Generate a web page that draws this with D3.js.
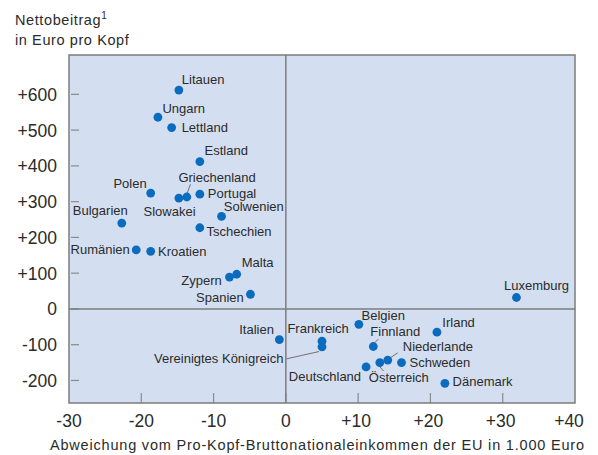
<!DOCTYPE html>
<html>
<head>
<meta charset="utf-8">
<script src="https://cdn.jsdelivr.net/npm/d3@7"></script>
<style>
  body { margin: 0; background: #fff; }
  svg text { font-family: "Liberation Sans", Arial, Helvetica, sans-serif; fill: #2b2b2b; }
</style>
</head>
<body>
<div id="chart"></div>
<script>
// data
var countries = ["Litauen", "Ungarn", "Lettland", "Estland", "Polen", "Griechenland", "Slowakei",
  "Portugal", "Solwenien", "Bulgarien", "Tschechien", "Rumänien", "Kroatien", "Malta", "Zypern",
  "Spanien", "Italien", "Frankreich", "Vereinigtes Königreich", "Belgien", "Finnland", "Irland",
  "Niederlande", "Österreich", "Schweden", "Deutschland", "Dänemark", "Luxemburg"];
var gniDiff = [-14.8, -17.7, -15.8, -11.9, -18.7, -13.7, -14.8,
  -11.9, -8.9, -22.7, -11.9, -20.7, -18.7, -6.8, -7.8,
  -4.9, -0.9, 5.0, 5.0, 10.1, 12.1, 20.9,
  14.1, 13.0, 16.0, 11.1, 22.0, 31.9];
var netContrib = [612, 536, 507, 412, 324, 313, 310,
  321, 259, 240, 227, 165, 161, 97, 89,
  41, -86, -90, -106, -43, -105, -65,
  -143, -150, -150, -162, -208, 32];
var xTicks = [-30, -20, -10, 0, 10, 20, 30, 40];
var yTicks = [-200, -100, 0, 100, 200, 300, 400, 500, 600];

// label placement (pixels relative to the dot)
var labelPos = {
  "Litauen": [3, -6, "start"],
  "Ungarn": [4.5, -4.5, "start"],
  "Lettland": [10, 4, "start"],
  "Estland": [4.7, -6.5, "start"],
  "Polen": [-4, -5, "end"],
  "Griechenland": [-8.4, -14.7, "start"],
  "Slowakei": [16.7, 17.7, "end"],
  "Portugal": [8, 4, "start"],
  "Solwenien": [2.3, -5.3, "start"],
  "Bulgarien": [6, -8, "end"],
  "Tschechien": [6.7, 8.5, "start"],
  "Rumänien": [-6.4, 4.5, "end"],
  "Kroatien": [7.3, 4.5, "start"],
  "Malta": [5, -7.6, "start"],
  "Zypern": [-7.7, 7.7, "end"],
  "Spanien": [-6.7, 8, "end"],
  "Italien": [-5.4, -5.7, "end"],
  "Frankreich": [-34.6, -8.6, "start"],
  "Vereinigtes Königreich": [-38.6, 15.7, "end"],
  "Belgien": [2.7, -4.3, "start"],
  "Finnland": [-3, -10, "start"],
  "Irland": [5.4, -5, "start"],
  "Niederlande": [15, -9, "start"],
  "Österreich": [-11, 19.6, "start"],
  "Schweden": [8, 4, "start"],
  "Deutschland": [-5, 13.7, "end"],
  "Dänemark": [7.7, 2.5, "start"],
  "Luxemburg": [-12.4, -7.7, "start"]
};
var leaders = {
  "Griechenland": [0.3, -3.7, 3.6, -12.7],
  "Vereinigtes Königreich": [-3, 4.7, -35.6, 12],
  "Finnland": [1.7, -4, 5, -7.4],
  "Niederlande": [2.6, -2.3, 10, -7.3],
  "Österreich": [-0.7, 3.4, 3.7, 8.4]
};

var width = 598, height = 455;
var pLeft = 69, pRight = 575, pTop = 55, pBottom = 403;

var x = d3.scaleLinear().domain([-30, 40]).range([pLeft, pRight]);
var y = d3.scaleLinear().domain([-263, 710]).range([pBottom, pTop]);

var svg = d3.select("#chart").append("svg")
    .attr("width", width)
    .attr("height", height);

svg.append("rect")
    .attr("x", pLeft).attr("y", pTop)
    .attr("width", pRight - pLeft).attr("height", pBottom - pTop)
    .attr("fill", "#d3dff0");

// tick marks inside the plot
svg.selectAll(".ytick").data(yTicks).enter().append("line")
    .attr("x1", pLeft + 2).attr("x2", pLeft + 10)
    .attr("y1", function(d) { return y(d); }).attr("y2", function(d) { return y(d); })
    .attr("stroke", "#8a8a8a").attr("stroke-width", 1.2);

svg.selectAll(".xtick").data(xTicks.slice(1, -1)).enter().append("line")
    .attr("x1", function(d) { return x(d); }).attr("x2", function(d) { return x(d); })
    .attr("y1", pBottom).attr("y2", pBottom - 10)
    .attr("stroke", "#8a8a8a").attr("stroke-width", 1.2);

// zero lines
svg.append("line")
    .attr("x1", x(0)).attr("x2", x(0)).attr("y1", pTop).attr("y2", pBottom)
    .attr("stroke", "#7c7c7c").attr("stroke-width", 1.5);
svg.append("line")
    .attr("x1", pLeft).attr("x2", pRight).attr("y1", y(0)).attr("y2", y(0))
    .attr("stroke", "#7c7c7c").attr("stroke-width", 1.5);

svg.append("rect")
    .attr("x", pLeft).attr("y", pTop)
    .attr("width", pRight - pLeft).attr("height", pBottom - pTop)
    .attr("fill", "none")
    .attr("stroke", "#7c7c7c").attr("stroke-width", 1.5);

// tick labels
var fmt = function(d) { return d > 0 ? "+" + d : String(d); };

svg.selectAll(".ylab").data(yTicks).enter().append("text")
    .attr("x", 57)
    .attr("y", function(d) { return y(d) + 6.5; })
    .attr("text-anchor", "end")
    .style("font-size", "17.5px")
    .text(fmt);

svg.selectAll(".xlab").data(xTicks).enter().append("text")
    .attr("x", function(d) { return x(d); })
    .attr("dx", function(d) { return d === 40 ? -6 : (d > 0 ? -2 : 0); })
    .attr("y", 427)
    .attr("text-anchor", "middle")
    .style("font-size", "17.5px")
    .text(fmt);

// titles
var t = svg.append("text").attr("x", 15).attr("y", 25).style("font-size", "14.5px")
    .style("letter-spacing", "0.6px");
t.append("tspan").text("Nettobeitrag");
t.append("tspan").attr("dy", -6).style("font-size", "10px").text("1");
svg.append("text").attr("x", 15).attr("y", 44.5).style("font-size", "14.5px")
    .style("letter-spacing", "0.6px").text("in Euro pro Kopf");

svg.append("text")
    .attr("x", 50).attr("y", 450)
    .style("font-size", "14.5px")
    .style("letter-spacing", "0.8px")
    .text("Abweichung vom Pro-Kopf-Bruttonationaleinkommen der EU in 1.000 Euro");

// leader lines
countries.forEach(function(c, i) {
  var l = leaders[c];
  if (!l) return;
  var px = x(gniDiff[i]), py = y(netContrib[i]);
  svg.append("line")
      .attr("x1", px + l[0]).attr("y1", py + l[1])
      .attr("x2", px + l[2]).attr("y2", py + l[3])
      .attr("stroke", "#6f6f6f").attr("stroke-width", 1);
});

// dots
svg.selectAll(".dot").data(countries).enter().append("circle")
    .attr("cx", function(d, i) { return x(gniDiff[i]); })
    .attr("cy", function(d, i) { return y(netContrib[i]); })
    .attr("r", 4.4)
    .attr("fill", "#0b6cbf");

// country labels
svg.selectAll(".clab").data(countries).enter().append("text")
    .attr("x", function(d, i) { return x(gniDiff[i]) + labelPos[d][0]; })
    .attr("y", function(d, i) { return y(netContrib[i]) + labelPos[d][1]; })
    .attr("text-anchor", function(d) { return labelPos[d][2]; })
    .style("font-size", "13px")
    .text(function(d) { return d; });
</script>
</body>
</html>
